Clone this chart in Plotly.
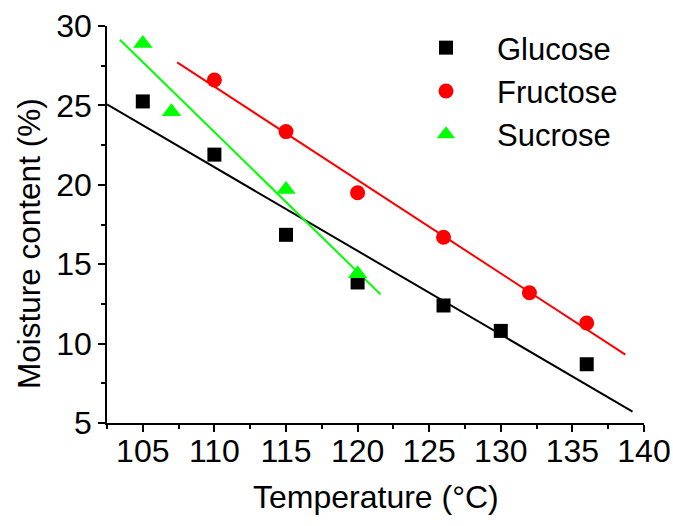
import numpy as np
import plotly.graph_objects as go

# ---- data ----
series_names = ["Glucose", "Fructose", "Sucrose"]

glucose_x = [105, 110, 115, 120, 126, 130, 136]
glucose_y = [25.25, 21.9, 16.85, 13.85, 12.4, 10.8, 8.7]

fructose_x = [110, 115, 120, 126, 132, 136]
fructose_y = [26.6, 23.35, 19.5, 16.7, 13.2, 11.3]

sucrose_x = [105, 107, 115, 120]
sucrose_y = [28.9, 24.6, 19.7, 14.4]

# linear fits (slope, intercept) and x extent of each fitted line
fit_slope = [-0.527, -0.588, -0.881]
fit_intercept = [79.08, 90.86, 120.23]
fit_x_start = [102.5, 107.4, 103.4]
fit_x_end = [139.2, 138.7, 121.6]

x_ticks = [105, 110, 115, 120, 125, 130, 135, 140]
y_ticks = [5, 10, 15, 20, 25, 30]

x_title = "Temperature (°C)"
y_title = "Moisture content (%)"

# ---- styling ----
FONT = "Liberation Sans, Arial, Helvetica, sans-serif"
colors = ["#000000", "#FF0000", "#00FF00"]
symbols = ["square", "circle", "triangle-up"]
msizes = [14, 15, 17]

xs = [glucose_x, fructose_x, sucrose_x]
ys = [glucose_y, fructose_y, sucrose_y]

fig = go.Figure()

# fitted lines
for i in range(3):
    lx = np.array([fit_x_start[i], fit_x_end[i]])
    ly = fit_slope[i] * lx + fit_intercept[i]
    fig.add_trace(go.Scatter(x=lx, y=ly, mode="lines",
                             line=dict(color=colors[i], width=2),
                             showlegend=False, hoverinfo="skip"))

# data markers
for i in range(3):
    fig.add_trace(go.Scatter(x=xs[i], y=ys[i], mode="markers", name=series_names[i],
                             marker=dict(symbol=symbols[i], size=msizes[i], color=colors[i],
                                         line=dict(width=0))))

axis_common = dict(showline=True, linecolor="black", linewidth=1.5, ticks="outside",
                   ticklen=7, tickwidth=1.5, tickcolor="black", showgrid=False,
                   zeroline=False, mirror=False, automargin=False,
                   tickfont=dict(family=FONT, size=32, color="black"))

fig.update_xaxes(range=[102.5, 140], tickvals=x_ticks, ticklabelstandoff=-8,
                 minor=dict(dtick=2.5, ticklen=4, tickwidth=1.5, tickcolor="black", ticks="outside"),
                 **axis_common)
fig.update_yaxes(range=[5, 30], tickvals=y_ticks,
                 minor=dict(dtick=2.5, ticklen=4, tickwidth=1.5, tickcolor="black", ticks="outside"),
                 **axis_common)

fig.add_annotation(text=x_title, xref="paper", yref="paper", x=0.5, y=-0.1864,
                   xanchor="center", yanchor="middle", showarrow=False,
                   font=dict(family=FONT, size=32, color="black"))
fig.add_annotation(text=y_title, xref="paper", yref="paper", x=-0.1453, y=0.4534,
                   xanchor="center", yanchor="middle", showarrow=False, textangle=-90,
                   font=dict(family=FONT, size=31.5, color="black"))

fig.update_layout(
    width=673, height=526,
    margin=dict(l=107, r=29, t=26, b=103),
    paper_bgcolor="white", plot_bgcolor="white",
    font=dict(family=FONT, color="black"),
    legend=dict(x=(395 - 107) / 537, y=1.0126, xanchor="left", yanchor="top",
                bgcolor="rgba(0,0,0,0)", itemwidth=92,
                font=dict(family=FONT, size=31, color="black"),
                tracegroupgap=0),
)

# remove the default page margin so the figure fills the window exactly
fig.write_html("out.html", config={"displayModeBar": False},
               post_script="document.body.style.margin='0px';")
